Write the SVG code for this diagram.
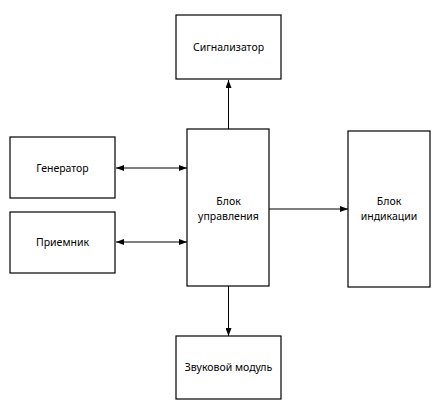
<svg xmlns="http://www.w3.org/2000/svg" width="447" height="408" viewBox="0 0 447 408">
<style>
.box{fill:#fff;stroke:#000;stroke-width:1.2}
.lbl{font-family:"Noto Sans","Open Sans","DejaVu Sans",sans-serif;font-size:10.5px;fill:#000;text-anchor:middle;dominant-baseline:central}
.c{stroke:#000;stroke-width:1;fill:none}
</style>
<defs>
<marker id="ah" viewBox="0 0 8 6" refX="8" refY="3" markerWidth="8" markerHeight="6" markerUnits="userSpaceOnUse" orient="auto-start-reverse">
<path d="M0,0 L8,3 L0,6 z" fill="#000"/>
</marker>
</defs>
<rect width="447" height="408" fill="#fff"/>
<g id="connectors">
<line class="c" x1="228.5" y1="129" x2="228.5" y2="80" marker-end="url(#ah)"/>
<line class="c" x1="116" y1="168" x2="187" y2="168" marker-start="url(#ah)" marker-end="url(#ah)"/>
<line class="c" x1="116" y1="242" x2="187" y2="242" marker-start="url(#ah)" marker-end="url(#ah)"/>
<line class="c" x1="269" y1="209" x2="348" y2="209" marker-end="url(#ah)"/>
<line class="c" x1="228.5" y1="286" x2="228.5" y2="336" marker-end="url(#ah)"/>
</g>
<g id="signalizator">
<rect class="box" x="176" y="15" width="105" height="64"/>
<text class="lbl" x="228.5" y="47">Сигнализатор</text>
</g>
<g id="generator">
<rect class="box" x="10" y="137" width="105" height="61"/>
<text class="lbl" x="62.5" y="168">Генератор</text>
</g>
<g id="priemnik">
<rect class="box" x="10" y="212" width="105" height="61"/>
<text class="lbl" x="62.5" y="242">Приемник</text>
</g>
<g id="blok-upravleniya">
<rect class="box" x="187" y="129" width="82" height="157"/>
<text class="lbl" x="228.5" y="201">Блок</text>
<text class="lbl" x="228.5" y="216">управления</text>
</g>
<g id="blok-indikacii">
<rect class="box" x="348" y="131" width="82" height="156"/>
<text class="lbl" x="389" y="201">Блок</text>
<text class="lbl" x="389" y="216">индикации</text>
</g>
<g id="zvukovoy-modul">
<rect class="box" x="176" y="336" width="105" height="63"/>
<text class="lbl" x="228.5" y="367">Звуковой модуль</text>
</g>
</svg>
